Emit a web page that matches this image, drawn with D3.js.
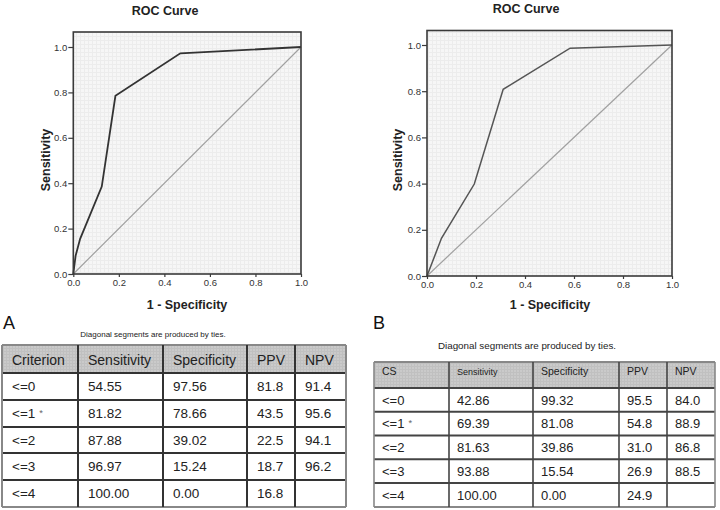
<!DOCTYPE html>
<html><head><meta charset="utf-8">
<script src="https://cdn.jsdelivr.net/npm/d3@7"></script>
<style>body{margin:0;background:#fff}svg{display:block;font-family:"Liberation Sans",Arial,sans-serif}</style>
</head><body>
<svg id="c" width="720" height="510"></svg>
<script>
// ---- data ----
const rocA_fpr = [0, 0.01, 0.03, 0.125, 0.185, 0.47, 1];
const rocA_tpr = [0, 0.08, 0.155, 0.385, 0.785, 0.972, 1];
const rocB_fpr = [0, 0.059, 0.193, 0.311, 0.584, 1];
const rocB_tpr = [0, 0.163, 0.398, 0.808, 0.986, 1];
const axisTicks = [0, 0.2, 0.4, 0.6, 0.8, 1.0];
const tableA_header = ["Criterion", "Sensitivity", "Specificity", "PPV", "NPV"];
const tableA_crit = ["<=0", "<=1 *", "<=2", "<=3", "<=4"];
const tableA_sens = ["54.55", "81.82", "87.88", "96.97", "100.00"];
const tableA_spec = ["97.56", "78.66", "39.02", "15.24", "0.00"];
const tableA_ppv = ["81.8", "43.5", "22.5", "18.7", "16.8"];
const tableA_npv = ["91.4", "95.6", "94.1", "96.2", ""];
const tableB_header = ["CS", "Sensitivity", "Specificity", "PPV", "NPV"];
const tableB_crit = ["<=0", "<=1 *", "<=2", "<=3", "<=4"];
const tableB_sens = ["42.86", "69.39", "81.63", "93.88", "100.00"];
const tableB_spec = ["99.32", "81.08", "39.86", "15.54", "0.00"];
const tableB_ppv = ["95.5", "54.8", "31.0", "26.9", "24.9"];
const tableB_npv = ["84.0", "88.9", "86.8", "88.5", ""];
const note = "Diagonal segments are produced by ties.";

const svg = d3.select("#c");
const defs = svg.append("defs");
const pat = defs.append("pattern").attr("id","grid").attr("width",4).attr("height",4).attr("patternUnits","userSpaceOnUse");
pat.append("rect").attr("width",4).attr("height",4).attr("fill","#f6f6f6");
pat.append("path").attr("d","M0,0.5H4M0.5,0V4").attr("stroke","#ececec").attr("stroke-width",1);
const pat2 = defs.append("pattern").attr("id","hgrid").attr("width",3).attr("height",3).attr("patternUnits","userSpaceOnUse");
pat2.append("rect").attr("width",3).attr("height",3).attr("fill","#cacaca");
pat2.append("path").attr("d","M0,0.5H3M0.5,0V3").attr("stroke","#c0c0c0").attr("stroke-width",1);

function roc(cfg, fpr, tpr) {
  const x = d3.scaleLinear().domain([0,1]).range([cfg.x0, cfg.x1]);
  const y = d3.scaleLinear().domain([0,1]).range([cfg.y0, cfg.y1]);
  const g = svg.append("g");
  g.append("rect").attr("x",cfg.x0).attr("y",cfg.top).attr("width",cfg.x1-cfg.x0).attr("height",cfg.y0-cfg.top)
    .attr("fill","url(#grid)");
  // diagonal
  g.append("line").attr("x1",x(0)).attr("y1",y(0)).attr("x2",x(1)).attr("y2",y(1))
    .attr("stroke","#a0a0a0").attr("stroke-width",1.2);
  const pts = fpr.map((f,i)=>[f,tpr[i]]);
  g.append("path").attr("d", d3.line().x(d=>x(d[0])).y(d=>y(d[1]))(pts))
    .attr("fill","none").attr("stroke",cfg.curve).attr("stroke-width",cfg.cw);
  g.append("rect").attr("x",cfg.x0).attr("y",cfg.top).attr("width",cfg.x1-cfg.x0).attr("height",cfg.y0-cfg.top)
    .attr("fill","none").attr("stroke","#3a3a3a").attr("stroke-width",1.6);
  const ya = g.append("g").attr("transform",`translate(${cfg.x0},0)`)
    .call(d3.axisLeft(y).tickValues(axisTicks).tickFormat(d3.format(".1f")).tickSize(5).tickPadding(1));
  const xa = g.append("g").attr("transform",`translate(0,${cfg.y0})`)
    .call(d3.axisBottom(x).tickValues(axisTicks).tickFormat(d3.format(".1f")).tickSize(3).tickPadding(2));
  [ya, xa].forEach(a=>{
    a.select(".domain").remove();
    a.selectAll("line").attr("stroke","#3a3a3a").attr("stroke-width",1.2);
    a.selectAll("text").attr("font-size",9.5).attr("fill","#333").attr("font-family","Liberation Sans, Arial, sans-serif");
  });
  g.append("text").attr("x",cfg.tx).attr("y",cfg.ty).attr("text-anchor","middle").attr("font-weight","bold")
    .attr("font-size",12.5).attr("fill","#222").text("ROC Curve");
  g.append("text").attr("transform",`translate(${cfg.sx},${cfg.sy}) rotate(-90)`).attr("text-anchor","middle")
    .attr("font-weight","bold").attr("font-size",12.5).attr("fill","#222").text("Sensitivity");
  g.append("text").attr("x",cfg.fx).attr("y",cfg.fy).attr("text-anchor","middle").attr("font-weight","bold")
    .attr("font-size",12.5).attr("fill","#222").text("1 - Specificity");
}

roc({x0:73.3,x1:301,y0:274,y1:47,top:32,tx:165,ty:15,sx:50,sy:160,fx:187,fy:309,curve:"#333",cw:1.8}, rocA_fpr, rocA_tpr);
roc({x0:427,x1:672,y0:276,y1:45,top:30.5,tx:526,ty:13,sx:402,sy:160,fx:550,fy:309,curve:"#555",cw:1.5}, rocB_fpr, rocB_tpr);

svg.append("text").attr("x",3).attr("y",329).attr("font-size",18).attr("fill","#111").text("A");
svg.append("text").attr("x",373).attr("y",329).attr("font-size",18).attr("fill","#111").text("B");
svg.append("text").attr("x",153).attr("y",337).attr("text-anchor","middle").attr("font-size",8).attr("fill","#222").text(note);
svg.append("text").attr("x",527).attr("y",348.5).attr("text-anchor","middle").attr("font-size",9.8).attr("fill","#222").text(note);

function table(t, cols, header, crit, sens, spec, ppv, npv) {
  const rows = crit.map((c,i)=>[c, sens[i], spec[i], ppv[i], npv[i]]);
  const g = svg.append("g");
  const W = cols[cols.length-1]-cols[0];
  g.append("rect").attr("x",cols[0]).attr("y",t.rows[0]).attr("width",W).attr("height",t.rows[1]-t.rows[0]).attr("fill","url(#hgrid)");
  g.append("rect").attr("x",cols[0]).attr("y",t.rows[1]).attr("width",W).attr("height",t.rows[t.rows.length-1]-t.rows[1]).attr("fill","#fff");
  t.rows.forEach((r,i)=>{
    g.append("line").attr("x1",cols[0]).attr("x2",cols[cols.length-1]).attr("y1",r).attr("y2",r)
      .attr("stroke", i===0||i===t.rows.length-1 ? t.outer : t.line).attr("stroke-width", t.hw);
  });
  cols.forEach((cx,i)=>{
    g.append("line").attr("x1",cx).attr("x2",cx).attr("y1",t.rows[0]).attr("y2",t.rows[t.rows.length-1])
      .attr("stroke", i===0||i===cols.length-1 ? t.outer : t.line).attr("stroke-width", t.vw);
  });
  header.forEach((h,j)=>{
    g.append("text").attr("x",cols[j]+t.pad).attr("y",t.hy).attr("font-size", j===1 && t.hsensSize ? t.hsensSize : t.hsize)
      .attr("fill","#222").text(h);
  });
  rows.forEach((row,i)=>{
    const cy = (t.rows[i+1]+t.rows[i+2])/2;
    row.forEach((v,j)=>{
      const txt = g.append("text").attr("x",cols[j]+t.pad).attr("y",cy).attr("dy","0.36em")
        .attr("font-size",t.bsize).attr("fill","#222");
      if (j===0 && v.includes("*")) {
        txt.text(v.replace(" *",""));
        txt.append("tspan").attr("dx",4).attr("dy","-0.25em").attr("font-size",t.bsize*0.7).attr("fill","#666").text("*");
      } else txt.text(v);
    });
  });
}

table({rows:[345,373,400,427,453,480,507], outer:"#888", line:"#333", hw:2, vw:2, pad:10, hy:365, hsize:14, bsize:13.5},
  [2,78,163,247,295,346], tableA_header, tableA_crit, tableA_sens, tableA_spec, tableA_ppv, tableA_npv);
table({rows:[362,388,411.7,435.5,459.3,483,507], outer:"#888", line:"#444", hw:2, vw:1.6, pad:8, hy:375, hsize:10.5, hsensSize:9, bsize:13},
  [374,449,533,619,667,715], tableB_header, tableB_crit, tableB_sens, tableB_spec, tableB_ppv, tableB_npv);
</script>
</body></html>
